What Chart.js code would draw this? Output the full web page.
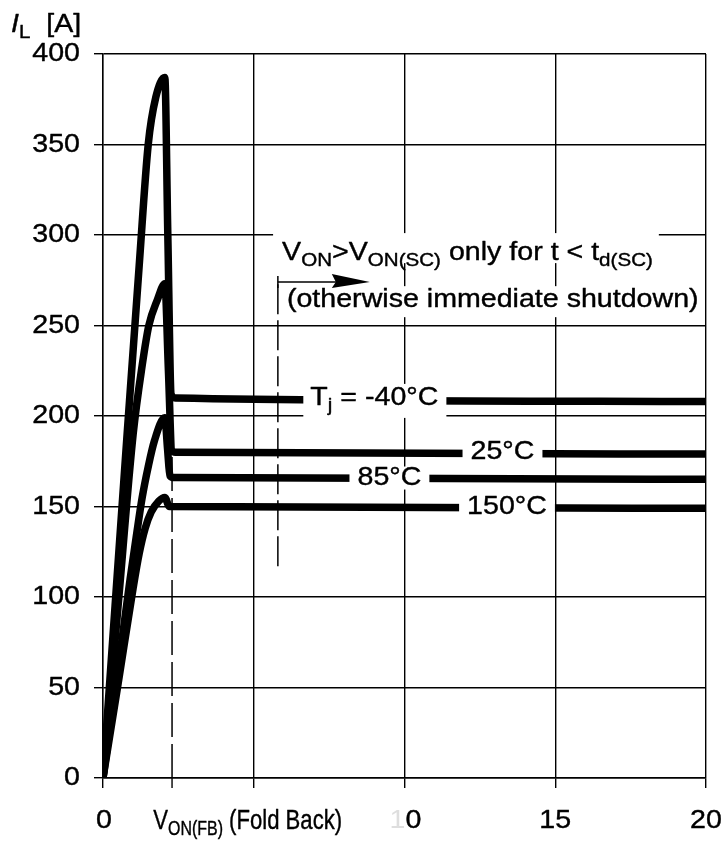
<!DOCTYPE html>
<html><head><meta charset="utf-8">
<script src="https://cdn.jsdelivr.net/npm/chart.js@4.4.1/dist/chart.umd.min.js"></script>
<style>html,body{margin:0;padding:0;background:#fff}#wrap{width:726px;height:846px;position:relative}</style>
</head><body><div id="wrap"><canvas id="c" width="726" height="846"></canvas></div>
<script>
// ---------- data ----------
const xTickValues = [0, 5, 10, 15, 20];
const yTickValues = [0, 50, 100, 150, 200, 250, 300, 350, 400];
const yTickLabels = ['0', '50', '100', '150', '200', '250', '300', '350', '400'];
const seriesNames = ['Tj = -40°C', '25°C', '85°C', '150°C'];

const vM40 = [0, 0.40, 0.80, 1.20, 1.50, 1.75, 2.05, 2.15, 2.26, 2.40, 20];
const iM40 = [0, 95, 190, 283, 350, 376, 387, 300, 212, 210, 208];

const v25 = [0, 0.50, 1.00, 1.30, 1.52, 1.80, 2.05, 2.17, 2.28, 2.40, 20];
const i25 = [0, 95, 190, 228, 250, 264, 273, 225, 181, 180, 179];

const v85 = [0, 0.50, 0.90, 1.10, 1.30, 1.50, 1.70, 2.05, 2.14, 2.22, 2.35, 20];
const i85 = [0, 60, 110, 133, 155, 172, 186, 199, 182, 167, 166, 165];

const v150 = [0, 0.50, 1.00, 1.20, 1.40, 1.60, 1.85, 2.05, 2.20, 20];
const i150 = [0, 52, 105, 124, 138, 147, 153, 155, 150, 149];

const vFoldBack = [2.29, 2.29];
const iFoldBack = [0, 215];
const vScMarker = [5.8, 5.8];
const iScMarker = [117, 274];

// ---------- helpers ----------
const FAM = '"Liberation Sans", Arial, Helvetica, sans-serif';
const pts = (xs, ys) => xs.map((v, k) => ({x: v, y: ys[k]}));

function partFont(p, size, fam) {
  const s = p.sub ? size * 0.72 : size;
  return (p.it ? 'italic ' : '') + s + 'px ' + fam;
}
function measureRich(ctx, parts, size, fam) {
  let w = 0;
  for (const p of parts) { ctx.font = partFont(p, size, fam); w += ctx.measureText(p.t).width; }
  return w;
}
function drawRich(ctx, parts, x, y, o) {
  const sx = o.sx || 1;
  const w = measureRich(ctx, parts, o.size, o.fam) * sx;
  const left = o.align === 'center' ? x - w / 2 : (o.align === 'right' ? x - w : x);
  if (o.box) {
    ctx.fillStyle = '#fff';
    ctx.fillRect(left - o.box.l, y - o.box.t, w + o.box.l + o.box.r, o.box.t + o.box.b);
  }
  ctx.save();
  ctx.translate(left, y);
  ctx.scale(sx, 1);
  ctx.textBaseline = 'middle';
  ctx.textAlign = 'left';
  ctx.lineJoin = 'round';
  let cx = 0;
  for (const p of parts) {
    ctx.font = partFont(p, o.size, o.fam);
    const col = p.color || '#000';
    ctx.fillStyle = col; ctx.strokeStyle = col;
    ctx.lineWidth = o.bold === undefined ? 0.4 : o.bold;
    const dy = p.sub ? o.size * 0.3 : 0;
    ctx.fillText(p.t, cx, dy);
    if (!p.color && ctx.lineWidth > 0) ctx.strokeText(p.t, cx, dy);
    cx += ctx.measureText(p.t).width;
  }
  ctx.restore();
  return {left, w};
}

const SX = 1.1;
const deco = {
  id: 'deco',
  afterDraw(chart) {
    const {ctx, scales: {x, y}} = chart;
    const X = v => x.getPixelForValue(v), Y = v => y.getPixelForValue(v);
    ctx.save();
    // extra tick below the axis at the fold-back voltage
    ctx.strokeStyle = '#000'; ctx.lineWidth = 1.4;
    ctx.beginPath(); ctx.moveTo(X(vFoldBack[0]), Y(0)); ctx.lineTo(X(vFoldBack[0]), Y(0) + 10); ctx.stroke();

    // curve labels (white knock-out boxes)
    const lbl = [
      {parts: [{t: 'T'}, {t: 'j', sub: true}, {t: ' = -40°C'}], vx: 9.0, vy: 210, box: {l: 7, r: 8, t: 14, b: 20}},
      {parts: [{t: '25°C'}], vx: 13.25, vy: 180, box: {l: 8, r: 8, t: 12, b: 13}},
      {parts: [{t: '85°C'}], vx: 9.5, vy: 166, box: {l: 8, r: 8, t: 11, b: 12}},
      {parts: [{t: '150°C'}], vx: 13.4, vy: 150, box: {l: 8, r: 8, t: 12, b: 13}}
    ];
    for (const L of lbl) drawRich(ctx, L.parts, X(L.vx), Y(L.vy), {size: 26, fam: FAM, align: 'center', sx: SX, box: L.box});

    // annotation
    drawRich(ctx, [{t: 'V'}, {t: 'ON', sub: true}, {t: '>V'}, {t: 'ON(SC)', sub: true}, {t: ' only for t < t'}, {t: 'd(SC)', sub: true}],
      X(5.94), Y(290), {size: 26, fam: FAM, align: 'left', sx: SX, box: {l: 9, r: 6, t: 20, b: 10}});
    drawRich(ctx, [{t: '(otherwise immediate shutdown)'}],
      X(6.1), Y(264), {size: 26, fam: FAM, align: 'left', sx: SX, box: {l: 4, r: 4, t: 14, b: 17}});

    // arrow
    const ax0 = X(vScMarker[0]), ay = Y(iScMarker[1]), axT = X(8.85);
    ctx.strokeStyle = '#000'; ctx.fillStyle = '#000'; ctx.lineWidth = 1.5;
    ctx.beginPath(); ctx.moveTo(ax0, ay - 6); ctx.lineTo(ax0, ay + 6); ctx.stroke();
    ctx.beginPath(); ctx.moveTo(ax0, ay); ctx.lineTo(axT - 30, ay); ctx.stroke();
    ctx.beginPath(); ctx.moveTo(axT - 38, ay - 8); ctx.lineTo(axT, ay); ctx.lineTo(axT - 38, ay + 6); ctx.lineTo(axT - 34, ay); ctx.closePath(); ctx.fill();

    // y tick labels
    yTickValues.forEach((v, k) => drawRich(ctx, [{t: yTickLabels[k]}], 80, Y(v), {size: 26, fam: FAM, align: 'right', sx: SX}));
    // x tick labels
    const ly = Y(0) + 43;
    drawRich(ctx, [{t: '0'}], X(0) + 1, ly, {size: 26, fam: FAM, align: 'center', sx: SX});
    drawRich(ctx, [{t: 'V'}, {t: 'ON(FB)', sub: true}, {t: ' (Fold Back)'}], X(5) - 6, ly, {size: 28, fam: FAM, align: 'center', sx: 0.79});
    drawRich(ctx, [{t: '1', color: '#dedede'}, {t: '0'}], X(10) + 1, ly, {size: 26, fam: FAM, align: 'center', sx: SX});
    drawRich(ctx, [{t: '15'}], X(15), ly, {size: 26, fam: FAM, align: 'center', sx: SX});
    drawRich(ctx, [{t: '20'}], X(20), ly, {size: 26, fam: FAM, align: 'center', sx: SX});

    // axis title
    drawRich(ctx, [{t: 'I', it: true}, {t: 'L', sub: true}, {t: '  [A]'}], 11, 25, {size: 26, fam: FAM, align: 'left', sx: SX});
    ctx.restore();
  }
};

const curveStyle = {borderColor: '#000', borderWidth: 7.5, pointRadius: 0, fill: false,
  cubicInterpolationMode: 'monotone', borderJoinStyle: 'round', borderCapStyle: 'butt'};
const dashStyle = {borderColor: '#000', borderWidth: 1.5, pointRadius: 0, fill: false, tension: 0};

new Chart(document.getElementById('c'), {
  type: 'line',
  data: {
    datasets: [
      Object.assign({label: 'fold back', data: pts(vFoldBack, iFoldBack), borderDash: [34, 7], order: 5}, dashStyle),
      Object.assign({label: 'sc', data: pts(vScMarker, iScMarker), borderDash: [30, 6], order: 5}, dashStyle),
      Object.assign({label: seriesNames[0], data: pts(vM40, iM40), order: 1}, curveStyle),
      Object.assign({label: seriesNames[1], data: pts(v25, i25), order: 1}, curveStyle),
      Object.assign({label: seriesNames[2], data: pts(v85, i85), order: 1}, curveStyle),
      Object.assign({label: seriesNames[3], data: pts(v150, i150), order: 1}, curveStyle)
    ]
  },
  options: {
    responsive: false, animation: false, events: [],
    layout: {padding: {left: 0, right: 20, top: 54, bottom: 0}},
    plugins: {legend: {display: false}, tooltip: {enabled: false}},
    scales: {
      x: {type: 'linear', min: 0, max: 20,
        afterBuildTicks: s => { s.ticks = xTickValues.map(v => ({value: v})); },
        afterFit: s => { s.height = 68; },
        ticks: {display: false},
        grid: {color: '#000', lineWidth: 1.4, tickLength: 10, drawTicks: true},
        border: {color: '#000', width: 1.4}},
      y: {type: 'linear', min: 0, max: 400,
        afterBuildTicks: s => { s.ticks = yTickValues.map(v => ({value: v})); },
        afterFit: s => { s.width = 103; },
        ticks: {display: false},
        grid: {color: '#000', lineWidth: 1.4, tickLength: 9, drawTicks: true},
        border: {color: '#000', width: 1.4}}
    }
  },
  plugins: [deco]
});
</script></body></html>
